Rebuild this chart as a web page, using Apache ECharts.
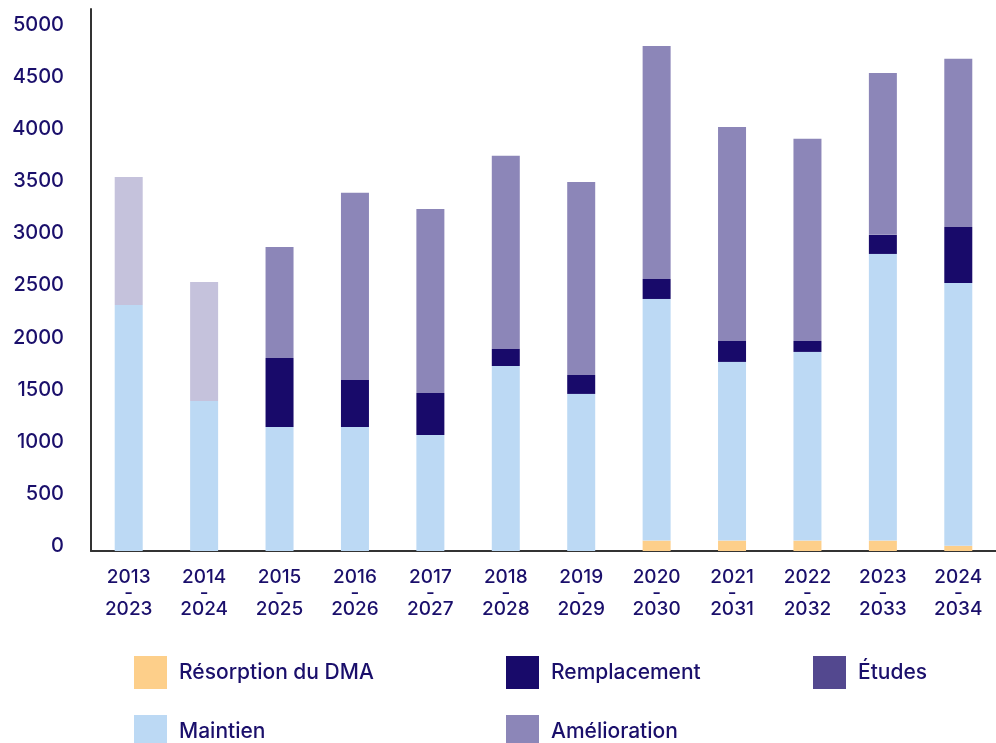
<!DOCTYPE html>
<html>
<head>
<meta charset="utf-8">
<script src="https://cdn.jsdelivr.net/npm/echarts@6/dist/echarts.min.js"></script>
<style>
  html, body { margin: 0; padding: 0; background: #fff; }
  #chart { width: 996px; height: 743px; }
</style>
</head>
<body>
<div id="chart"></div>
<script>
const categories = ["2013\n-\n2023", "2014\n-\n2024", "2015\n-\n2025", "2016\n-\n2026", "2017\n-\n2027", "2018\n-\n2028",
  "2019\n-\n2029", "2020\n-\n2030", "2021\n-\n2031", "2022\n-\n2032", "2023\n-\n2033", "2024\n-\n2034"];
const resorption = [0, 0, 0, 0, 0, 0, 0, 100, 100, 100, 100, 50];
const maintien = [2361, 1440, 1190, 1190, 1113, 1775, 1507, 2318, 1714, 1810, 2750, 2522];
const remplacement = [0, 0, 662, 451, 403, 164, 182, 192, 201, 105, 183, 537];
const etudes = [0, 0, 0, 0, 0, 0, 0, 0, 0, 0, 0, 0];
const amelioration = [1228, 1142, 1065, 1795, 1766, 1852, 1852, 2236, 2054, 1939, 1554, 1613];
const yTicks = [0, 500, 1000, 1500, 2000, 2500, 3000, 3500, 4000, 4500, 5000];

const navy = "#1a0f6b";
const fontFamily = "Inter";
const colors = {
  resorption: "#fdcf8a",
  maintien: "#bcd9f4",
  remplacement: "#180a6a",
  etudes: "#53488f",
  amelioration: "#8c86b8",
  ameliorationLight: "#c5c2dc"
};

const chart = echarts.init(document.getElementById("chart"));

function legendAt(name, left, top) {
  return {
    data: [name],
    left: left,
    top: top,
    icon: "rect",
    itemWidth: 33,
    itemHeight: 33,
    selectedMode: false,
    textStyle: { color: navy, fontSize: 21, fontWeight: 500, fontFamily: fontFamily, padding: [0, 0, 0, 7] }
  };
}

const option = {
  animation: false,
  grid: { left: 91, top: 9, width: 914, height: 542, containLabel: false },
  legend: [
    legendAt("Résorption du DMA", 129, 651),
    legendAt("Remplacement", 501, 651),
    legendAt("Études", 808, 651),
    legendAt("Maintien", 129, 710),
    legendAt("Amélioration", 501, 710)
  ],
  xAxis: {
    type: "category",
    data: categories,
    axisLine: { lineStyle: { color: "#333", width: 2 } },
    axisTick: { show: false },
    axisLabel: { color: navy, fontSize: 19, fontWeight: 500, fontFamily: fontFamily, lineHeight: 16, margin: 18 }
  },
  yAxis: {
    type: "value",
    min: 0,
    max: 5200,
    interval: 500,
    splitLine: { show: false },
    axisTick: { show: false },
    axisLine: { show: true, lineStyle: { color: "#333", width: 2 } },
    axisLabel: {
      color: navy, fontSize: 20, fontWeight: 500, fontFamily: fontFamily, margin: 27,
      verticalAlign: "bottom", lineHeight: 10,
      formatter: v => (yTicks.indexOf(v) >= 0 ? String(v) : "")
    }
  },
  series: [
    { name: "Résorption du DMA", type: "bar", stack: "t", barWidth: 28, data: resorption, itemStyle: { color: colors.resorption } },
    { name: "Maintien", type: "bar", stack: "t", barWidth: 28, data: maintien, itemStyle: { color: colors.maintien } },
    { name: "Remplacement", type: "bar", stack: "t", barWidth: 28, data: remplacement, itemStyle: { color: colors.remplacement } },
    { name: "Études", type: "bar", stack: "t", barWidth: 28, data: etudes, itemStyle: { color: colors.etudes } },
    {
      name: "Amélioration", type: "bar", stack: "t", barWidth: 28,
      itemStyle: { color: colors.amelioration },
      // the first two periods are drawn in a paler shade
      data: amelioration.map((v, i) => i < 2 ? { value: v, itemStyle: { color: colors.ameliorationLight } } : v)
    }
  ]
};

chart.setOption(option);
</script>
</body>
</html>
